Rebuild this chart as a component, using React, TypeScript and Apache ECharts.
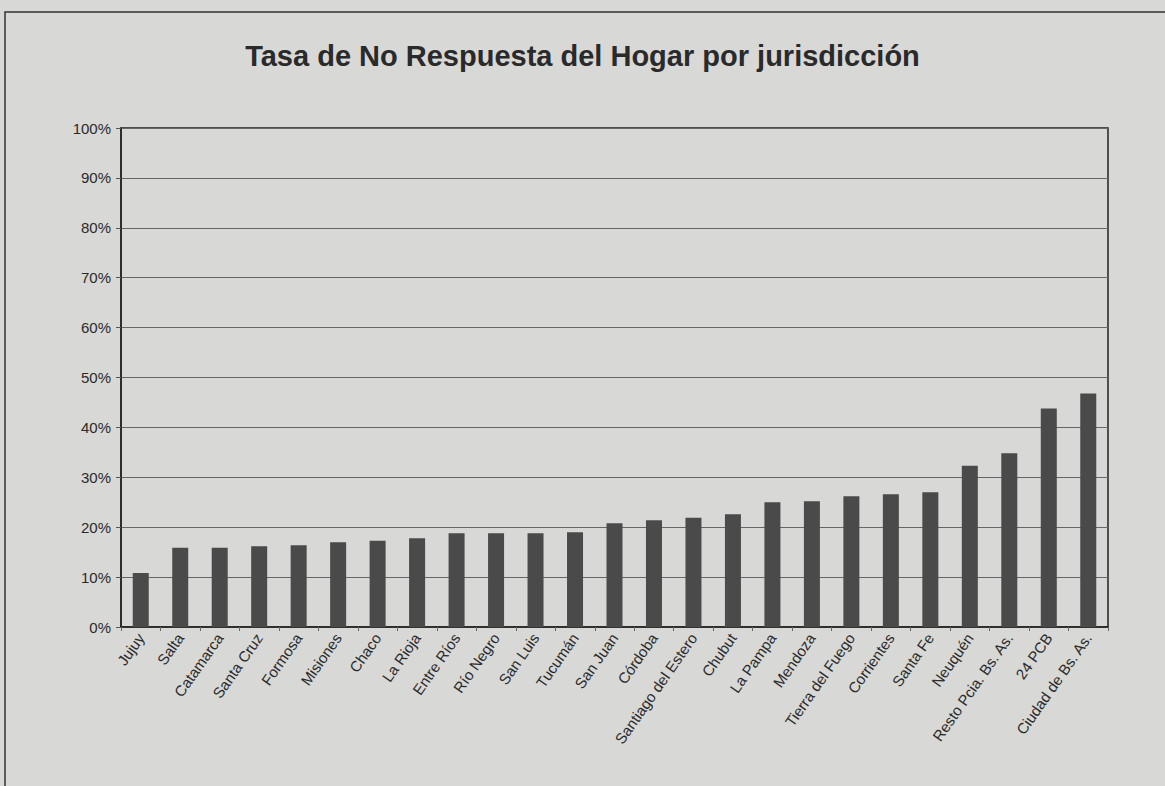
import React, { useEffect, useRef } from "react";
import * as echarts from "echarts";

const categories = [
  "Jujuy", "Salta", "Catamarca", "Santa Cruz", "Formosa", "Misiones", "Chaco", "La Rioja",
  "Entre Ríos", "Río Negro", "San Luis", "Tucumán", "San Juan", "Córdoba", "Santiago del Estero",
  "Chubut", "La Pampa", "Mendoza", "Tierra del Fuego", "Corrientes", "Santa Fe", "Neuquén",
  "Resto Pcia. Bs. As.", "24 PCB", "Ciudad de Bs. As.",
];
const values = [
  10.8, 15.9, 15.9, 16.2, 16.4, 17.0, 17.3, 17.8, 18.8, 18.8, 18.8, 19.0, 20.8, 21.4, 21.9,
  22.6, 25.0, 25.2, 26.2, 26.6, 27.0, 32.3, 34.8, 43.8, 46.8,
];
const yTicks = { min: 0, max: 100, interval: 10 };
const title = "Tasa de No Respuesta del Hogar por jurisdicción";

export default function App() {
  const ref = useRef<HTMLDivElement>(null);
  useEffect(() => {
    if (!ref.current) return;
    const chart = echarts.init(ref.current, null, { renderer: "svg" });
    chart.setOption({
      animation: false,
      backgroundColor: "#d8d8d6",
      title: {
        text: title,
        left: "center",
        top: 36,
        textStyle: { fontFamily: "Liberation Sans, Arial", fontSize: 29, fontWeight: "bold", color: "#2a2a2a" },
      },
      graphic: [
        {
          type: "rect",
          shape: { x: 5, y: 12, width: 1180, height: 800 },
          style: { fill: "none", stroke: "#333", lineWidth: 1.5 },
          silent: true,
        },
      ],
      grid: {
        left: 121,
        right: 57,
        top: 128,
        bottom: 159,
        show: true,
        borderColor: "#222",
        borderWidth: 1.5,
        backgroundColor: "transparent",
      },
      xAxis: {
        type: "category",
        data: categories,
        axisLine: { lineStyle: { color: "#222", width: 1.5 } },
        axisTick: { show: true, length: 4, lineStyle: { color: "#666" } },
        axisLabel: {
          rotate: 55,
          interval: 0,
          fontFamily: "Liberation Sans, Arial",
          fontSize: 15,
          color: "#2a2a2a",
          margin: 8,
        },
      },
      yAxis: {
        type: "value",
        min: yTicks.min,
        max: yTicks.max,
        interval: yTicks.interval,
        axisLine: { show: true, lineStyle: { color: "#222", width: 1.5 } },
        axisTick: { show: true, length: 5, lineStyle: { color: "#555" } },
        splitLine: { lineStyle: { color: "#666", width: 1 } },
        axisLabel: {
          formatter: "{value}%",
          fontFamily: "Liberation Sans, Arial",
          fontSize: 15,
          color: "#2a2a2a",
          margin: 10,
        },
      },
      series: [
        {
          type: "bar",
          data: values,
          barWidth: 16,
          itemStyle: { color: "#4a4a4a" },
        },
      ],
    });
    return () => chart.dispose();
  }, []);
  return <div ref={ref} style={{ position: "absolute", left: 0, top: 0, width: 1165, height: 786 }} />;
}
